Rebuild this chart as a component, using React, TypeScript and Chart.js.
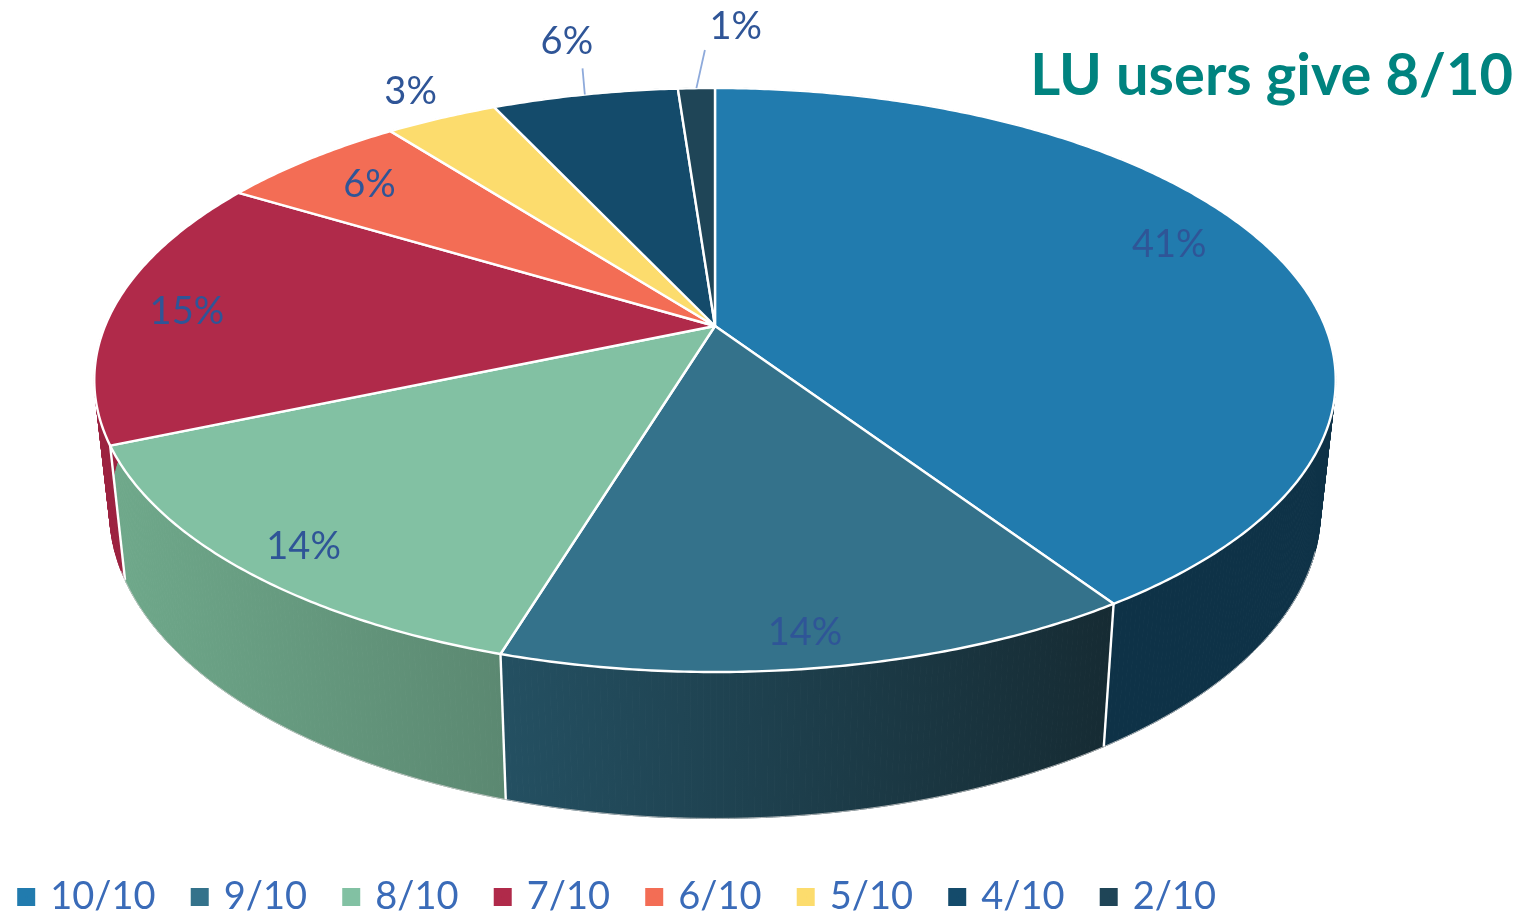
import React, { useEffect, useRef } from "react";
import { Chart, registerables } from "chart.js";

Chart.register(...registerables);

const categories = ["10/10", "9/10", "8/10", "7/10", "6/10", "5/10", "4/10", "2/10"];
const shares = [40.7, 14.0, 13.9, 15.1, 5.9, 3.5, 5.8, 1.15];
const labels = ["41%", "14%", "14%", "15%", "6%", "3%", "6%", "1%"];
const topColors = ["#217bae", "#34728b", "#82c1a3", "#b02a4a", "#f36d55", "#fcdc6d", "#144b6b", "#1f4557"];
const wallLeft = ["#0e3247", "#245062", "#6fa98b", "#9c2240", "#c9543f", "#cfb254", "#0f3a54", "#183644"];
const wallRight = ["#0e3247", "#162b33", "#5b8871", "#9c2240", "#c9543f", "#cfb254", "#0f3a54", "#183644"];

// label placement: radial fraction and angular nudge (degrees) relative to the slice centre
const labelRadius = [0.847, 0.909, 0.9, 0.877, 0.838, 1.153, 1.283, 1.33];
const labelNudge = [-4.8, 0.6, -0.9, -0.2, 0, 0.5, 1.1, 3.9];
const leaderRadius = [0, 0, 0, 0, 0, 0, 1.13, 1.195];
const leaderNudge = [0, 0, 0, 0, 0, 0, 1.2, 1.1];

const K = 0.185;
const TOP = { cx: 715, cy: 326, s: 610, r: 282 };
const BOTTOM = { cx: 715, cy: 454, s: 595, r: 297 };

type Plane = typeof TOP;
const project = (p: Plane, theta: number, radius = 1) => {
  const u = Math.sin(theta) * radius;
  const v = -Math.cos(theta) * radius;
  const w = 1 - K * v;
  return { x: p.cx + (p.s * u) / w, y: p.cy + (p.r * v) / w };
};
const STEP = Math.PI / 360;
const edge = (p: Plane, a: number, b: number) => {
  const pts = [];
  const n = Math.max(1, Math.ceil((b - a) / STEP));
  for (let i = 0; i <= n; i++) pts.push(project(p, a + ((b - a) * i) / n));
  return pts;
};

const pie3d = {
  id: "pie3d",
  beforeDatasetsDraw(chart: any) {
    const ctx: CanvasRenderingContext2D = chart.ctx;
    const arcs = chart.getDatasetMeta(0).data;
    const spans = arcs.map((a: any) => [a.startAngle + Math.PI / 2, a.endAngle + Math.PI / 2]);
    ctx.save();
    ctx.lineJoin = "round";

    // side walls, swept between the upper and the lower rim
    spans.forEach(([a, b]: number[], i: number) => {
      const up = edge(TOP, a, b);
      const low = edge(BOTTOM, a, b);
      const visible = [...up, ...low].filter((p) => p.y > 330).map((p) => p.x);
      const g = ctx.createLinearGradient(Math.min(...visible, 1e4), 0, Math.max(...visible, 0), 0);
      g.addColorStop(0, wallLeft[i]);
      g.addColorStop(1, wallRight[i]);
      ctx.fillStyle = g;
      ctx.strokeStyle = g;
      ctx.lineWidth = 1;
      for (let j = 0; j < up.length - 1; j++) {
        ctx.beginPath();
        ctx.moveTo(up[j].x, up[j].y);
        ctx.lineTo(up[j + 1].x, up[j + 1].y);
        ctx.lineTo(low[j + 1].x, low[j + 1].y);
        ctx.lineTo(low[j].x, low[j].y);
        ctx.closePath();
        ctx.fill();
        ctx.stroke();
      }
    });
    // white seams between the walls
    spans.forEach(([a]: number[]) => {
      const p = project(TOP, a);
      const q = project(BOTTOM, a);
      ctx.beginPath();
      ctx.moveTo(p.x, p.y);
      ctx.lineTo(q.x, q.y);
      ctx.strokeStyle = "#ffffff";
      ctx.lineWidth = 2.4;
      ctx.stroke();
    });

    // lower rim
    ctx.beginPath();
    edge(BOTTOM, Math.PI * 0.6, Math.PI * 1.38).forEach((p, j) => (j ? ctx.lineTo(p.x, p.y) : ctx.moveTo(p.x, p.y)));
    ctx.strokeStyle = "rgba(205,205,205,0.8)";
    ctx.lineWidth = 1;
    ctx.stroke();

    // top surface
    spans.forEach(([a, b]: number[], i: number) => {
      ctx.beginPath();
      ctx.moveTo(TOP.cx, TOP.cy);
      edge(TOP, a, b).forEach((p) => ctx.lineTo(p.x, p.y));
      ctx.closePath();
      ctx.fillStyle = topColors[i];
      ctx.fill();
      ctx.strokeStyle = "#ffffff";
      ctx.lineWidth = 2.4;
      ctx.stroke();
    });

    // leader lines and labels
    ctx.font = "38px Lato";
    ctx.textAlign = "center";
    ctx.textBaseline = "middle";
    spans.forEach(([a, b]: number[], i: number) => {
      const mid = (a + b) / 2;
      if (leaderRadius[i]) {
        const from = project(TOP, mid + (leaderNudge[i] * Math.PI) / 180, leaderRadius[i]);
        const to = project(TOP, mid);
        ctx.beginPath();
        ctx.moveTo(from.x, from.y);
        ctx.lineTo(to.x, to.y);
        ctx.strokeStyle = "#8eaadb";
        ctx.lineWidth = 1.8;
        ctx.stroke();
      }
      const at = project(TOP, mid + (labelNudge[i] * Math.PI) / 180, labelRadius[i]);
      ctx.fillStyle = "#2f5597";
      ctx.fillText(labels[i], at.x, at.y + 1.5);
    });
    ctx.restore();
    return false;
  },
};

export default function App() {
  const ref = useRef<HTMLCanvasElement | null>(null);
  useEffect(() => {
    const base = (Chart as any).overrides.pie.plugins.legend.labels.generateLabels;
    const chart = new Chart(ref.current as HTMLCanvasElement, {
      type: "pie",
      data: {
        labels: categories,
        datasets: [{ data: shares, backgroundColor: topColors, borderColor: "#ffffff", borderWidth: 2 }],
      },
      options: {
        responsive: false,
        animation: false,
        layout: { padding: { right: 6, bottom: -11, left: -18, top: 0 } },
        plugins: {
          tooltip: { enabled: false },
          title: {
            display: true,
            text: "LU users give 8/10",
            align: "end",
            color: "#00837f",
            font: { family: "Lato", size: 57.8, weight: "bold" },
            padding: { top: 42, bottom: 0 },
          },
          legend: {
            display: true,
            position: "bottom",
            align: "start",
            labels: {
              boxWidth: 10,
              boxHeight: 10,
              padding: 39.2,
              color: "#3a6bb8",
              font: { family: "Lato", size: 38 },
              generateLabels(c: any) {
                return base(c).map((item: any) => ({ ...item, strokeStyle: item.fillStyle, lineWidth: 8 }));
              },
            },
          },
        },
      },
      plugins: [pie3d],
    } as any);
    return () => chart.destroy();
  }, []);
  return (
    <div style={{ position: "fixed", left: 0, top: 0, width: 1519, height: 915, background: "#ffffff", overflow: "hidden" }}>
      <canvas ref={ref} width={1519} height={915} style={{ display: "block" }} />
    </div>
  );
}
